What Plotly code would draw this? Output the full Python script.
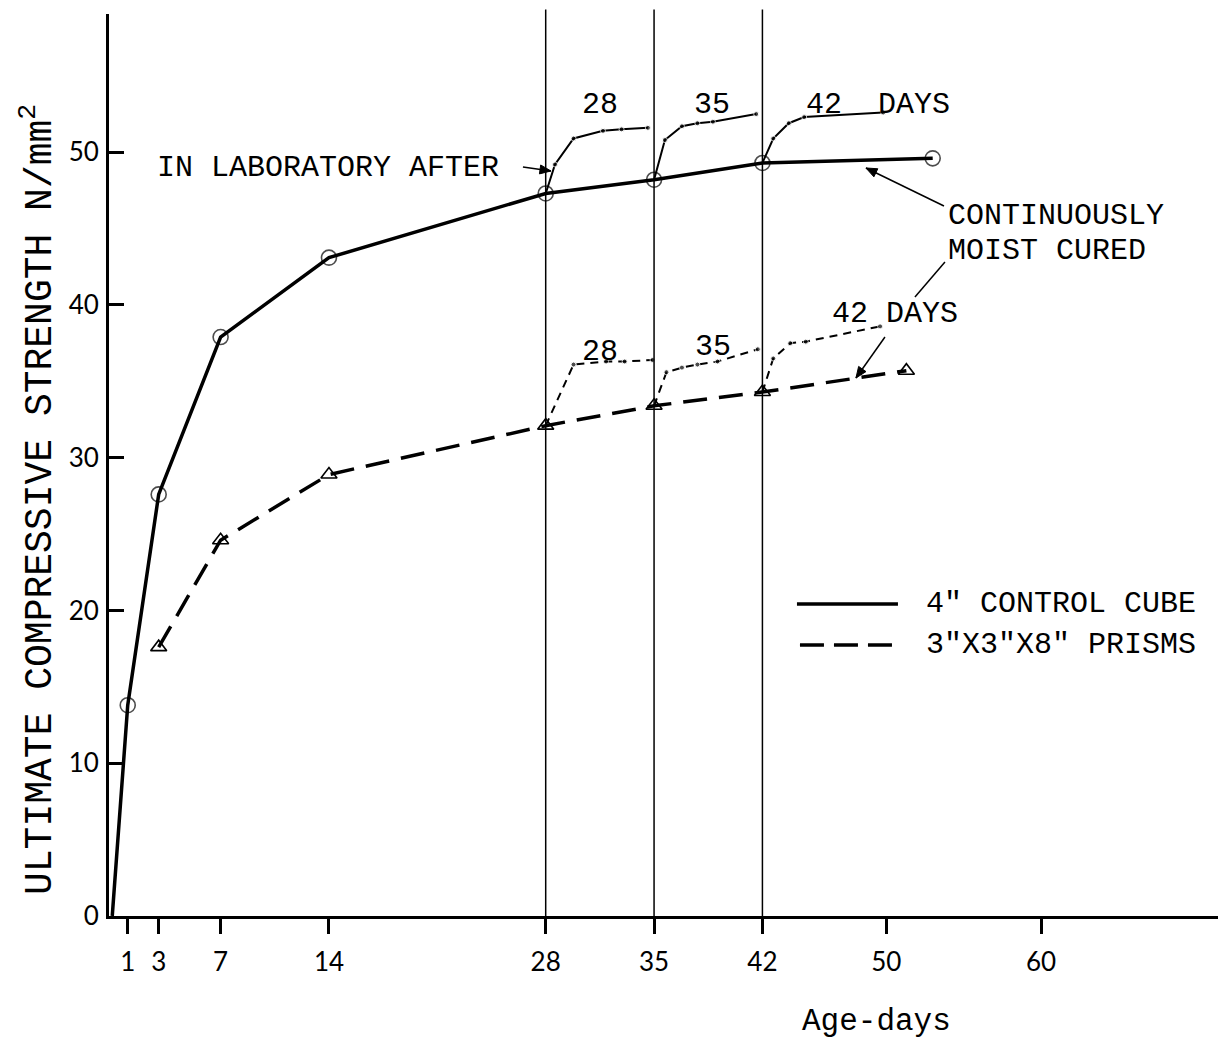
import math
import plotly.graph_objects as go

# ---- data ----
cube_days = [0, 1, 3, 7, 14, 28, 35, 42, 53]
cube_str = [0, 13.8, 27.6, 37.9, 43.1, 47.3, 48.2, 49.3, 49.6]

prism_days = [3, 7, 14, 28, 35, 42, 51.3]
prism_str = [17.6, 24.6, 28.9, 32.1, 33.4, 34.3, 35.7]

lab28_days = [28, 28.6, 29.8, 31.7, 32.9, 34.6]
lab28_str = [47.3, 49.2, 50.9, 51.4, 51.5, 51.6]
lab35_days = [35, 35.7, 36.8, 37.8, 38.8, 41.6]
lab35_str = [48.2, 50.8, 51.7, 51.9, 52.0, 52.5]
lab42_days = [42, 42.7, 43.7, 44.7, 49.8]
lab42_str = [49.3, 50.9, 51.9, 52.3, 52.6]

plab28_days = [28, 29.8, 31.9, 33.1, 34.9]
plab28_str = [32.1, 36.1, 36.3, 36.3, 36.4]
plab35_days = [35, 35.8, 36.8, 37.8, 39.1, 41.7]
plab35_str = [33.4, 35.6, 35.9, 36.1, 36.3, 37.1]
plab42_days = [42, 42.7, 43.8, 44.8, 49.6]
plab42_str = [34.3, 36.5, 37.5, 37.6, 38.6]

x_ticks = [1, 3, 7, 14, 28, 35, 42, 50, 60]
y_ticks = [0, 10, 20, 30, 40, 50]
transfer_days = [28, 35, 42]

TW = "Liberation Mono"
TICKF = "Lato"

# pixel -> data helpers for layout decorations
def X(px):
    return (px - 112.3) / 15.48

def Y(py):
    return (916 - py) / 15.275

fig = go.Figure()

# lab-cured branches (cube)
for d, s in [(lab28_days, lab28_str), (lab35_days, lab35_str), (lab42_days, lab42_str)]:
    fig.add_trace(go.Scatter(x=d, y=s, mode="lines+markers",
                             line=dict(color="black", width=2),
                             marker=dict(color="black", size=[0] + [5] * (len(d) - 1)),
                             showlegend=False, hoverinfo="skip"))
# lab-cured branches (prism)
for d, s in [(plab28_days, plab28_str), (plab35_days, plab35_str), (plab42_days, plab42_str)]:
    fig.add_trace(go.Scatter(x=d, y=s, mode="lines+markers",
                             line=dict(color="black", width=2, dash="8px,6px"),
                             marker=dict(color="black", size=[0] + [5] * (len(d) - 1)),
                             showlegend=False, hoverinfo="skip"))

# main curves
fig.add_trace(go.Scatter(x=cube_days, y=cube_str, mode="lines+markers",
                         line=dict(color="black", width=3.5),
                         marker=dict(symbol="circle-open", size=[0] + [15] * (len(cube_days) - 1),
                                     color="black", line=dict(width=1.6)),
                         showlegend=False))
fig.add_trace(go.Scatter(x=prism_days, y=prism_str, mode="lines+markers",
                         line=dict(color="black", width=3.5, dash="24px,12px"),
                         marker=dict(symbol="triangle-up-open", size=14,
                                     color="black", line=dict(width=1.6)),
                         showlegend=False))

shapes = []
for d in transfer_days:
    shapes.append(dict(type="line", xref="x", yref="paper", x0=d, x1=d, y0=0, y1=1.005,
                       line=dict(color="black", width=1.5)))
# legend samples
shapes.append(dict(type="line", xref="x", yref="y", x0=X(797), x1=X(898), y0=Y(604), y1=Y(604),
                   line=dict(color="black", width=3.5)))
shapes.append(dict(type="line", xref="x", yref="y", x0=X(800), x1=X(900), y0=Y(645), y1=Y(645),
                   line=dict(color="black", width=3.5, dash="24px,10px")))
# leader line (no head)
shapes.append(dict(type="line", xref="x", yref="y", x0=X(945), x1=X(915), y0=Y(262), y1=Y(297),
                   line=dict(color="black", width=1.5)))

def arrow(x0p, y0p, x1p, y1p, head=11, half=4.5):
    shapes.append(dict(type="line", xref="x", yref="y", x0=X(x0p), y0=Y(y0p), x1=X(x1p), y1=Y(y1p),
                       line=dict(color="black", width=1.5)))
    dx, dy = x1p - x0p, y1p - y0p
    L = math.hypot(dx, dy)
    ux, uy = dx / L, dy / L
    bx, by = x1p - ux * head, y1p - uy * head
    px_, py_ = -uy, ux
    pts = [(x1p, y1p), (bx + px_ * half, by + py_ * half), (bx - px_ * half, by - py_ * half)]
    path = "M " + " L ".join(f"{X(a):.4f},{Y(b):.4f}" for a, b in pts) + " Z"
    shapes.append(dict(type="path", xref="x", yref="y", path=path,
                       fillcolor="black", line=dict(color="black", width=1)))

arrow(523, 167, 551, 171)
arrow(944, 206, 866, 168)
arrow(885, 337, 856, 378)

ann = []
def txt(s, px, py, size=30, xanchor="center"):
    ann.append(dict(text=s, x=X(px), y=Y(py), xref="x", yref="y", showarrow=False,
                    xanchor=xanchor, yanchor="middle", font=dict(family=TW, size=size, color="black")))

txt("28", 600, 105)
txt("35", 712, 105)
txt("42", 824, 105)
txt("DAYS", 914, 105)
txt("IN LABORATORY AFTER", 155, 168, xanchor="left")
txt("CONTINUOUSLY", 946, 216, xanchor="left")
txt("MOIST CURED", 946, 251, xanchor="left")
txt("28", 600, 352)
txt("35", 713, 347)
txt("42 DAYS", 830, 314, xanchor="left")
txt("4\" CONTROL CUBE", 924, 604, xanchor="left")
txt("3\"X3\"X8\" PRISMS", 924, 645, xanchor="left")

# axis titles
ann.append(dict(text="ULTIMATE COMPRESSIVE STRENGTH N/mm<sup>2</sup>", xref="paper", yref="y",
                x=(38 - 109) / 1109, y=Y(500), showarrow=False, textangle=-90,
                xanchor="center", yanchor="middle", font=dict(family=TW, size=38, color="black")))
ann.append(dict(text="Age-days", xref="x", yref="paper", x=X(877), y=(916 - 1021) / 902,
                showarrow=False, xanchor="center", yanchor="middle",
                font=dict(family=TW, size=31, color="black")))

fig.update_layout(
    width=1218, height=1039,
    margin=dict(l=109, r=0, t=14, b=123),
    paper_bgcolor="white", plot_bgcolor="white",
    shapes=shapes, annotations=ann,
    showlegend=False,
    xaxis=dict(range=[-0.21, 71.43], tickmode="array", tickvals=x_ticks,
               ticktext=[str(v) for v in x_ticks], ticks="outside", ticklen=15,
               tickwidth=2.5, tickcolor="black", showline=True, linecolor="black",
               linewidth=3, showgrid=False, zeroline=False, ticklabelstandoff=6,
               tickfont=dict(family=TICKF, size=26, color="black")),
    yaxis=dict(range=[0, 59.05], tickmode="array", tickvals=y_ticks,
               ticktext=[str(v) for v in y_ticks], ticks="inside", ticklen=15,
               tickwidth=2.5, tickcolor="black", showline=True, linecolor="black",
               linewidth=3, showgrid=False, zeroline=False, ticklabelstandoff=2,
               tickfont=dict(family=TICKF, size=26, color="black")),
)

fig.write_html("out.html")
